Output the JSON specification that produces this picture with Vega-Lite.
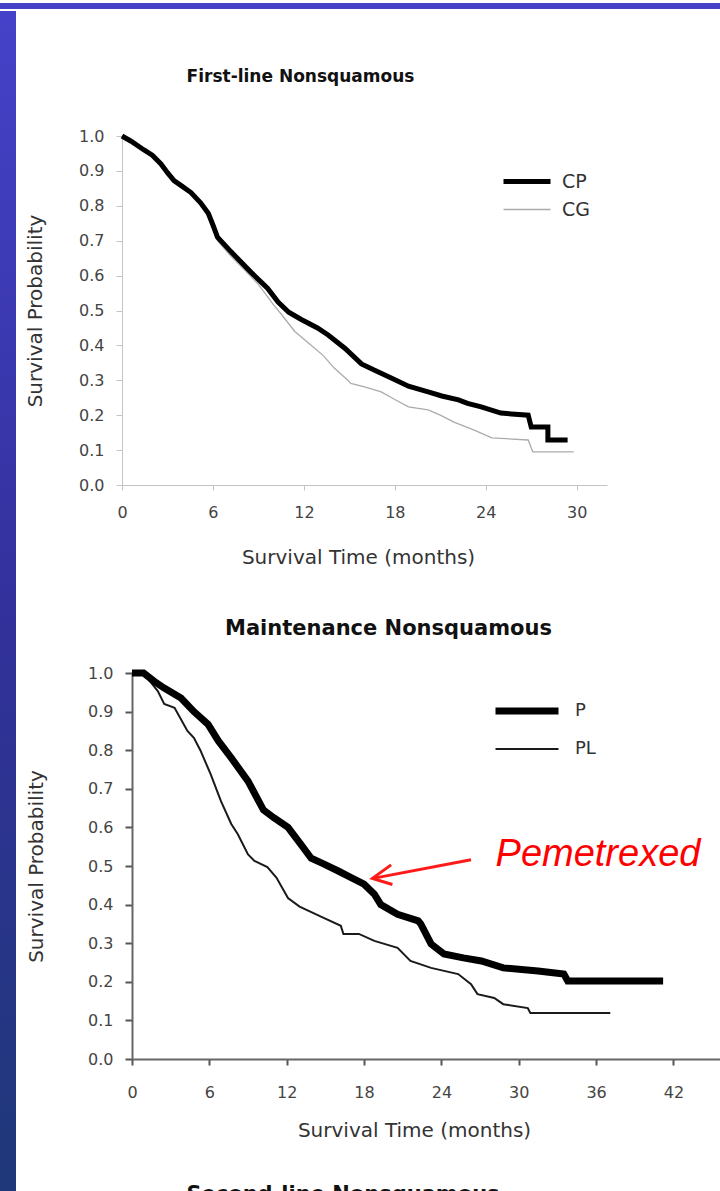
{
  "$schema": "https://vega.github.io/schema/vega-lite/v6.json",
  "background": "white",
  "padding": 0,
  "spacing": 0,
  "config": {
    "view": {"stroke": null},
    "font": "DejaVu Sans",
    "axis": {"grid": false, "labelFont": "DejaVu Sans", "titleFont": "DejaVu Sans", "titleFontWeight": "normal", "labelFlush": false},
    "title": {"font": "DejaVu Sans"},
    "legend": {"labelFont": "DejaVu Sans"}
  },
  "datasets": {
    "first": [
      {"arm": "CP", "t": 0, "s": 1.0}, {"arm": "CP", "t": 0.6, "s": 0.985}, {"arm": "CP", "t": 1.45, "s": 0.96},
      {"arm": "CP", "t": 2.0, "s": 0.945}, {"arm": "CP", "t": 2.57, "s": 0.92}, {"arm": "CP", "t": 3.0, "s": 0.895},
      {"arm": "CP", "t": 3.43, "s": 0.872}, {"arm": "CP", "t": 4.0, "s": 0.855},
      {"arm": "CP", "t": 4.55, "s": 0.838}, {"arm": "CP", "t": 5.2, "s": 0.808}, {"arm": "CP", "t": 5.7, "s": 0.778},
      {"arm": "CP", "t": 6.0, "s": 0.745}, {"arm": "CP", "t": 6.3, "s": 0.71}, {"arm": "CP", "t": 7.2, "s": 0.668}, {"arm": "CP", "t": 8.5, "s": 0.61},
      {"arm": "CP", "t": 9.6, "s": 0.564}, {"arm": "CP", "t": 10.3, "s": 0.524}, {"arm": "CP", "t": 11.0, "s": 0.495},
      {"arm": "CP", "t": 11.8, "s": 0.475}, {"arm": "CP", "t": 12.9, "s": 0.45}, {"arm": "CP", "t": 13.6, "s": 0.43},
      {"arm": "CP", "t": 14.7, "s": 0.392}, {"arm": "CP", "t": 15.8, "s": 0.347}, {"arm": "CP", "t": 16.6, "s": 0.33},
      {"arm": "CP", "t": 17.8, "s": 0.306}, {"arm": "CP", "t": 18.9, "s": 0.283}, {"arm": "CP", "t": 20.2, "s": 0.267},
      {"arm": "CP", "t": 21.1, "s": 0.255}, {"arm": "CP", "t": 22.2, "s": 0.244}, {"arm": "CP", "t": 22.8, "s": 0.234},
      {"arm": "CP", "t": 23.7, "s": 0.224}, {"arm": "CP", "t": 25.0, "s": 0.206}, {"arm": "CP", "t": 26.8, "s": 0.2},
      {"arm": "CP", "t": 27.0, "s": 0.166}, {"arm": "CP", "t": 28.1, "s": 0.166}, {"arm": "CP", "t": 28.1, "s": 0.129},
      {"arm": "CP", "t": 29.4, "s": 0.129},
      {"arm": "CG", "t": 0, "s": 1.0}, {"arm": "CG", "t": 0.6, "s": 0.985}, {"arm": "CG", "t": 1.45, "s": 0.958},
      {"arm": "CG", "t": 2.57, "s": 0.918}, {"arm": "CG", "t": 3.43, "s": 0.868}, {"arm": "CG", "t": 4.55, "s": 0.834},
      {"arm": "CG", "t": 5.2, "s": 0.803}, {"arm": "CG", "t": 5.7, "s": 0.772}, {"arm": "CG", "t": 6.3, "s": 0.7},
      {"arm": "CG", "t": 7.2, "s": 0.655}, {"arm": "CG", "t": 8.0, "s": 0.62}, {"arm": "CG", "t": 9.0, "s": 0.575},
      {"arm": "CG", "t": 10.0, "s": 0.516}, {"arm": "CG", "t": 10.5, "s": 0.49}, {"arm": "CG", "t": 11.4, "s": 0.44},
      {"arm": "CG", "t": 12.5, "s": 0.4}, {"arm": "CG", "t": 13.3, "s": 0.37}, {"arm": "CG", "t": 14.0, "s": 0.335},
      {"arm": "CG", "t": 14.9, "s": 0.3}, {"arm": "CG", "t": 15.1, "s": 0.291}, {"arm": "CG", "t": 16.0, "s": 0.281},
      {"arm": "CG", "t": 17.1, "s": 0.267}, {"arm": "CG", "t": 18.0, "s": 0.245}, {"arm": "CG", "t": 18.9, "s": 0.224},
      {"arm": "CG", "t": 20.2, "s": 0.215}, {"arm": "CG", "t": 21.0, "s": 0.2}, {"arm": "CG", "t": 21.9, "s": 0.18},
      {"arm": "CG", "t": 23.2, "s": 0.158}, {"arm": "CG", "t": 24.4, "s": 0.135}, {"arm": "CG", "t": 26.8, "s": 0.129},
      {"arm": "CG", "t": 27.1, "s": 0.095}, {"arm": "CG", "t": 29.8, "s": 0.095}
    ],
    "maint": [
      {"grp": "P", "t": 0, "s": 1.0}, {"grp": "P", "t": 0.9, "s": 1.0}, {"grp": "P", "t": 1.7, "s": 0.979},
      {"grp": "P", "t": 2.5, "s": 0.961}, {"grp": "P", "t": 3.8, "s": 0.935}, {"grp": "P", "t": 4.8, "s": 0.9},
      {"grp": "P", "t": 5.9, "s": 0.867}, {"grp": "P", "t": 6.7, "s": 0.824}, {"grp": "P", "t": 7.7, "s": 0.78},
      {"grp": "P", "t": 9.0, "s": 0.72}, {"grp": "P", "t": 10.2, "s": 0.645}, {"grp": "P", "t": 11.0, "s": 0.625},
      {"grp": "P", "t": 12.1, "s": 0.6}, {"grp": "P", "t": 13.1, "s": 0.556}, {"grp": "P", "t": 13.9, "s": 0.52},
      {"grp": "P", "t": 14.9, "s": 0.505}, {"grp": "P", "t": 16.0, "s": 0.487}, {"grp": "P", "t": 17.0, "s": 0.47},
      {"grp": "P", "t": 18.0, "s": 0.453}, {"grp": "P", "t": 18.8, "s": 0.427}, {"grp": "P", "t": 19.3, "s": 0.4},
      {"grp": "P", "t": 20.6, "s": 0.375}, {"grp": "P", "t": 22.2, "s": 0.358}, {"grp": "P", "t": 22.4, "s": 0.35},
      {"grp": "P", "t": 23.2, "s": 0.298}, {"grp": "P", "t": 24.2, "s": 0.272}, {"grp": "P", "t": 25.7, "s": 0.262},
      {"grp": "P", "t": 27.1, "s": 0.254}, {"grp": "P", "t": 28.8, "s": 0.236}, {"grp": "P", "t": 31.5, "s": 0.228},
      {"grp": "P", "t": 33.5, "s": 0.22}, {"grp": "P", "t": 33.8, "s": 0.202}, {"grp": "P", "t": 41.2, "s": 0.202},
      {"grp": "PL", "t": 0, "s": 1.0}, {"grp": "PL", "t": 0.8, "s": 1.0}, {"grp": "PL", "t": 1.2, "s": 0.987},
      {"grp": "PL", "t": 2.0, "s": 0.953}, {"grp": "PL", "t": 2.5, "s": 0.92}, {"grp": "PL", "t": 3.3, "s": 0.91},
      {"grp": "PL", "t": 4.3, "s": 0.85}, {"grp": "PL", "t": 4.8, "s": 0.832}, {"grp": "PL", "t": 5.3, "s": 0.8},
      {"grp": "PL", "t": 6.1, "s": 0.738}, {"grp": "PL", "t": 6.9, "s": 0.668}, {"grp": "PL", "t": 7.7, "s": 0.609},
      {"grp": "PL", "t": 8.2, "s": 0.583}, {"grp": "PL", "t": 9.0, "s": 0.53}, {"grp": "PL", "t": 9.5, "s": 0.513},
      {"grp": "PL", "t": 10.5, "s": 0.497}, {"grp": "PL", "t": 11.2, "s": 0.47}, {"grp": "PL", "t": 12.1, "s": 0.417},
      {"grp": "PL", "t": 13.0, "s": 0.395}, {"grp": "PL", "t": 14.7, "s": 0.368}, {"grp": "PL", "t": 16.2, "s": 0.345},
      {"grp": "PL", "t": 16.4, "s": 0.324}, {"grp": "PL", "t": 17.6, "s": 0.324}, {"grp": "PL", "t": 18.8, "s": 0.306},
      {"grp": "PL", "t": 20.6, "s": 0.288}, {"grp": "PL", "t": 21.6, "s": 0.254}, {"grp": "PL", "t": 23.2, "s": 0.236},
      {"grp": "PL", "t": 25.3, "s": 0.22}, {"grp": "PL", "t": 26.3, "s": 0.194}, {"grp": "PL", "t": 26.8, "s": 0.168},
      {"grp": "PL", "t": 28.1, "s": 0.158}, {"grp": "PL", "t": 28.8, "s": 0.142}, {"grp": "PL", "t": 30.7, "s": 0.132},
      {"grp": "PL", "t": 30.9, "s": 0.119}, {"grp": "PL", "t": 37.1, "s": 0.119}
    ],
    "arrow": [
      {"part": "shaft", "ord": 1, "t": 26.3, "s": 0.516},
      {"part": "shaft", "ord": 2, "t": 18.7, "s": 0.468},
      {"part": "head", "ord": 1, "t": 20.1, "s": 0.503},
      {"part": "head", "ord": 2, "t": 18.65, "s": 0.468},
      {"part": "head", "ord": 3, "t": 20.2, "s": 0.452}
    ],
    "note": [{"label": "Pemetrexed", "t": 28.2, "s": 0.5}]
  },
  "vconcat": [
    {
      "width": 720, "height": 6,
      "data": {"values": [{"k": 1}]},
      "mark": {"type": "text"},
      "view": {"fill": "#4542c8"}
    },
    {
      "spacing": 9,
      "hconcat": [
        {
          "width": 16, "height": 1190,
          "data": {"values": [{"k": 1}]},
          "mark": {"type": "text"},
          "view": {"fill": {"gradient": "linear", "x1": 0, "y1": 0, "x2": 0, "y2": 1,
            "stops": [{"offset": 0, "color": "#4542c9"}, {"offset": 0.5, "color": "#33319c"}, {"offset": 1, "color": "#1e3878"}]}}
        },
        {
          "columns": 1,
          "align": "none",
          "spacing": 0,
          "resolve": {
            "scale": {"color": "independent", "strokeWidth": "independent", "x": "independent", "y": "independent"},
            "legend": {"color": "independent", "strokeWidth": "independent"}
          },
          "concat": [
            {"width": 1, "height": 57, "data": {"values": [{"k": 1}]}, "mark": {"type": "text"}},
            {
              "width": 485, "height": 349,
              "title": {"text": "First-line Nonsquamous", "fontSize": 17, "fontWeight": "bold", "color": "#111",
                "anchor": "middle", "frame": "group", "dx": -64, "offset": 27, "baseline": "alphabetic"},
              "data": {"name": "first"},
              "encoding": {
                "x": {"field": "t", "type": "quantitative", "scale": {"domain": [0, 32], "nice": false, "zero": false},
                  "axis": {"values": [0, 6, 12, 18, 24, 30], "title": "Survival Time (months)", "titleFontSize": 20,
                    "titleColor": "#333", "titlePadding": 27, "titleX": 236, "labelFontSize": 16, "labelColor": "#444",
                    "labelPadding": 14, "tickSize": 5, "tickColor": "#c4c4c4", "domainColor": "#c4c4c4"}},
                "y": {"field": "s", "type": "quantitative", "scale": {"domain": [0, 1], "nice": false},
                  "axis": {"values": [0, 0.1, 0.2, 0.3, 0.4, 0.5, 0.6, 0.7, 0.8, 0.9, 1.0], "format": ".1f",
                    "title": "Survival Probability", "titleFontSize": 20, "titleColor": "#333", "titlePadding": 33,
                    "labelFontSize": 16, "labelColor": "#444", "labelPadding": 12, "tickSize": 6,
                    "tickColor": "#c4c4c4", "domainColor": "#c4c4c4"}},
                "color": {"field": "arm", "type": "nominal", "scale": {"domain": ["CP", "CG"], "range": ["#000000", "#ababab"]},
                  "legend": {"title": null, "orient": "none", "legendX": 379, "legendY": 36, "symbolType": "stroke",
                    "symbolSize": 2209, "clipHeight": 19, "labelFontSize": 19, "labelColor": "#333", "labelOffset": 9, "rowPadding": 8, "padding": 0}},
                "strokeWidth": {"field": "arm", "type": "nominal", "scale": {"domain": ["CP", "CG"], "range": [5, 1.3]},
                  "legend": {"title": null, "orient": "none", "legendX": 379, "legendY": 36, "symbolType": "stroke",
                    "symbolSize": 2209, "clipHeight": 19, "labelFontSize": 19, "labelColor": "#333", "labelOffset": 9, "rowPadding": 8, "padding": 0}}
              },
              "layer": [
                {"transform": [{"filter": "datum.arm === 'CG'"}], "mark": {"type": "line"}},
                {"transform": [{"filter": "datum.arm === 'CP'"}], "mark": {"type": "line"}}
              ]
            },
            {"width": 1, "height": 51, "data": {"values": [{"k": 1}]}, "mark": {"type": "text"}},
            {
              "width": 603, "height": 386,
              "title": {"text": "Maintenance Nonsquamous", "fontSize": 21, "fontWeight": "bold", "color": "#111",
                "anchor": "middle", "frame": "group", "dx": -35, "offset": 3, "baseline": "alphabetic"},
              "encoding": {
                "x": {"field": "t", "type": "quantitative", "scale": {"domain": [0, 46], "range": [10, 603], "nice": false, "zero": false},
                  "axis": {"values": [0, 6, 12, 18, 24, 30, 36, 42], "title": "Survival Time (months)", "titleFontSize": 20,
                    "titleColor": "#333", "titlePadding": 20, "titleX": 292, "labelFontSize": 16, "labelColor": "#444",
                    "labelPadding": 19, "tickSize": 6, "tickWidth": 2, "tickColor": "#555", "domainColor": "#666", "domainWidth": 2}},
                "y": {"field": "s", "type": "quantitative", "scale": {"domain": [0, 1], "nice": false},
                  "axis": {"values": [0, 0.1, 0.2, 0.3, 0.4, 0.5, 0.6, 0.7, 0.8, 0.9, 1.0], "format": ".1f", "offset": -10,
                    "title": "Survival Probability", "titleFontSize": 20, "titleColor": "#333", "titlePadding": 41,
                    "labelFontSize": 16, "labelColor": "#444", "labelPadding": 12, "tickSize": 7, "tickWidth": 2,
                    "tickColor": "#555", "domainColor": "#666", "domainWidth": 2}}
              },
              "layer": [
                {
                  "data": {"name": "maint"},
                  "transform": [{"filter": "datum.grp === 'PL'"}],
                  "mark": {"type": "line"},
                  "encoding": {
                    "color": {"field": "grp", "type": "nominal", "scale": {"domain": ["P", "PL"], "range": ["#000000", "#1a1a1a"]},
                      "legend": {"title": null, "orient": "none", "legendX": 370, "legendY": 29, "symbolType": "stroke",
                        "symbolSize": 3969, "clipHeight": 18, "labelFontSize": 18, "labelColor": "#333", "labelOffset": 13, "rowPadding": 20, "padding": 0}},
                    "strokeWidth": {"field": "grp", "type": "nominal", "scale": {"domain": ["P", "PL"], "range": [7, 2]},
                      "legend": {"title": null, "orient": "none", "legendX": 370, "legendY": 29, "symbolType": "stroke",
                        "symbolSize": 3969, "clipHeight": 18, "labelFontSize": 18, "labelColor": "#333", "labelOffset": 13, "rowPadding": 20, "padding": 0}}
                  }
                },
                {
                  "data": {"name": "maint"},
                  "transform": [{"filter": "datum.grp === 'P'"}],
                  "mark": {"type": "line"},
                  "encoding": {
                    "color": {"field": "grp", "type": "nominal", "scale": {"domain": ["P", "PL"], "range": ["#000000", "#1a1a1a"]},
                      "legend": {"title": null, "orient": "none", "legendX": 370, "legendY": 29, "symbolType": "stroke",
                        "symbolSize": 3969, "clipHeight": 18, "labelFontSize": 18, "labelColor": "#333", "labelOffset": 13, "rowPadding": 20, "padding": 0}},
                    "strokeWidth": {"field": "grp", "type": "nominal", "scale": {"domain": ["P", "PL"], "range": [7, 2]},
                      "legend": {"title": null, "orient": "none", "legendX": 370, "legendY": 29, "symbolType": "stroke",
                        "symbolSize": 3969, "clipHeight": 18, "labelFontSize": 18, "labelColor": "#333", "labelOffset": 13, "rowPadding": 20, "padding": 0}}
                  }
                },
                {
                  "data": {"name": "arrow"},
                  "mark": {"type": "line", "color": "#ff1a1a", "strokeWidth": 3},
                  "encoding": {"detail": {"field": "part"}, "order": {"field": "ord", "type": "quantitative"}}
                },
                {
                  "data": {"name": "note"},
                  "mark": {"type": "text", "font": "Liberation Sans", "fontSize": 38, "fontStyle": "italic",
                    "color": "#ff0000", "align": "left", "baseline": "alphabetic"},
                  "encoding": {"text": {"field": "label"}}
                }
              ]
            },
            {
              "width": 442, "height": 1,
              "data": {"values": [{"k": 1}]},
              "mark": {"type": "text"},
              "title": {"text": "Second-line Nonsquamous", "orient": "bottom", "offset": 32, "fontSize": 21,
                "fontWeight": "bold", "baseline": "top", "anchor": "middle", "frame": "group", "color": "#111"}
            }
          ]
        }
      ]
    }
  ]
}
